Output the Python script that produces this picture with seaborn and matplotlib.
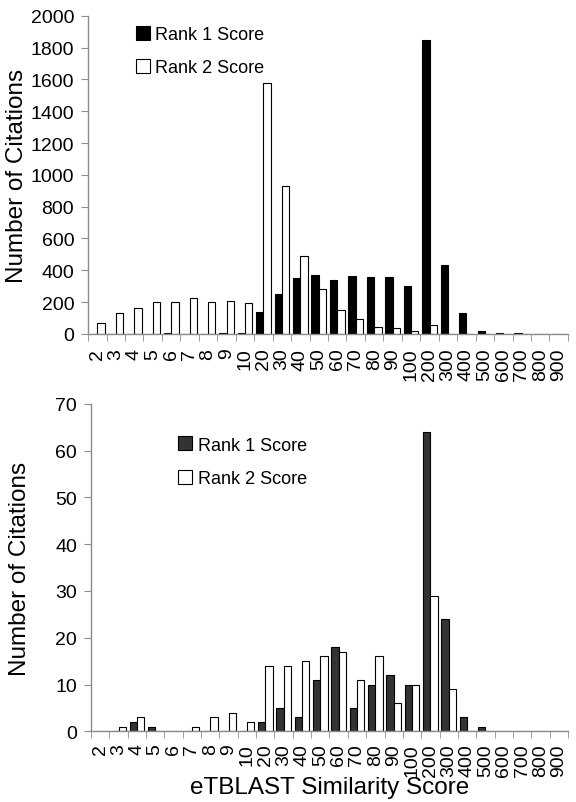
import numpy as np
import pandas as pd
import matplotlib
matplotlib.use("Agg")
import matplotlib.pyplot as plt
import seaborn as sns

sns.set_style("white")
plt.rcParams['font.family'] = ['Liberation Sans', 'DejaVu Sans']
plt.rcParams['text.color'] = 'black'
plt.rcParams['axes.labelcolor'] = 'black'
plt.rcParams['xtick.color'] = 'black'
plt.rcParams['ytick.color'] = 'black'

scores = ["2", "3", "4", "5", "6", "7", "8", "9", "10", "20", "30", "40", "50",
          "60", "70", "80", "90", "100", "200", "300", "400", "500", "600",
          "700", "800", "900"]

# top panel (all citations)
top_rank1 = [0, 0, 0, 0, 5, 0, 0, 5, 8, 140, 248, 350, 371,
             340, 363, 357, 357, 300, 1850, 430, 132, 21, 5,
             5, 0, 0]
top_rank2 = [70, 132, 160, 200, 200, 227, 200, 206, 195, 1575, 930, 489, 283,
             153, 94, 42, 36, 21, 57, 0, 0, 0, 0,
             0, 0, 0]

# bottom panel
bot_rank1 = [0, 0, 2, 1, 0, 0, 0, 0, 0, 2, 5, 3, 11,
             18, 5, 10, 12, 10, 64, 24, 3, 1, 0,
             0, 0, 0]
bot_rank2 = [0, 1, 3, 0, 0, 1, 3, 4, 2, 14, 14, 15, 16,
             17, 11, 16, 6, 10, 29, 9, 0, 0, 0,
             0, 0, 0]

labels = ["Rank 1 Score", "Rank 2 Score"]


def long_df(r1, r2):
    return pd.DataFrame({
        "score": scores * 2,
        "count": r1 + r2,
        "rank": [labels[0]] * len(scores) + [labels[1]] * len(scores),
    })


fig = plt.figure(figsize=(5.76, 8.03), dpi=100)
ax1 = fig.add_axes([0.153, 0.583, 0.833, 0.396])
ax2 = fig.add_axes([0.158, 0.088, 0.828, 0.408])

grey = "#8c8c8c"

panels = [
    (ax1, long_df(top_rank1, top_rank2), "black", 2000, 200, (0.065, 1.02), 10),
    (ax2, long_df(bot_rank1, bot_rank2), "#333333", 70, 10, (0.148, 0.95), 8.5),
]

for ax, df, dark, ymax, ystep, legpos, xpad in panels:
    sns.barplot(data=df, x="score", y="count", hue="rank", order=scores,
                hue_order=labels, palette={labels[0]: dark, labels[1]: "white"},
                edgecolor="black", linewidth=0.8, ax=ax)
    ax.set_xlim(-0.5, len(scores) - 0.5)
    ax.set_ylim(0, ymax)
    ax.set_yticks(np.arange(0, ymax + 1, ystep))
    ax.set_xticks(np.arange(len(scores)))
    ax.set_xticklabels(scores, rotation=90, fontsize=14)
    ax.set_xticks(np.arange(len(scores) + 1) - 0.5, minor=True)
    ax.tick_params(axis="x", which="major", length=0, pad=xpad)
    ax.tick_params(axis="x", which="minor", length=5, direction="out",
                   color=grey, bottom=True)
    ax.tick_params(axis="y", length=5, direction="out", color=grey,
                   left=True, labelsize=14, pad=5)
    for side in ["top", "right"]:
        ax.spines[side].set_visible(False)
    for side in ["left", "bottom"]:
        ax.spines[side].set_color(grey)
        ax.spines[side].set_linewidth(1)
    ax.set_ylabel("Number of Citations", fontsize=17.5)
    ax.yaxis.set_label_coords(-0.125, 0.5)
    ax.set_xlabel("")
    sns.move_legend(ax, "upper left", bbox_to_anchor=legpos, frameon=False,
                    title=None, fontsize=13, handlelength=0.8,
                    handleheight=0.8, handletextpad=0.3, labelspacing=0.9)

ax2.set_xlabel("eTBLAST Similarity Score", fontsize=17.5, labelpad=0)

fig.savefig("out.png", dpi=100)
